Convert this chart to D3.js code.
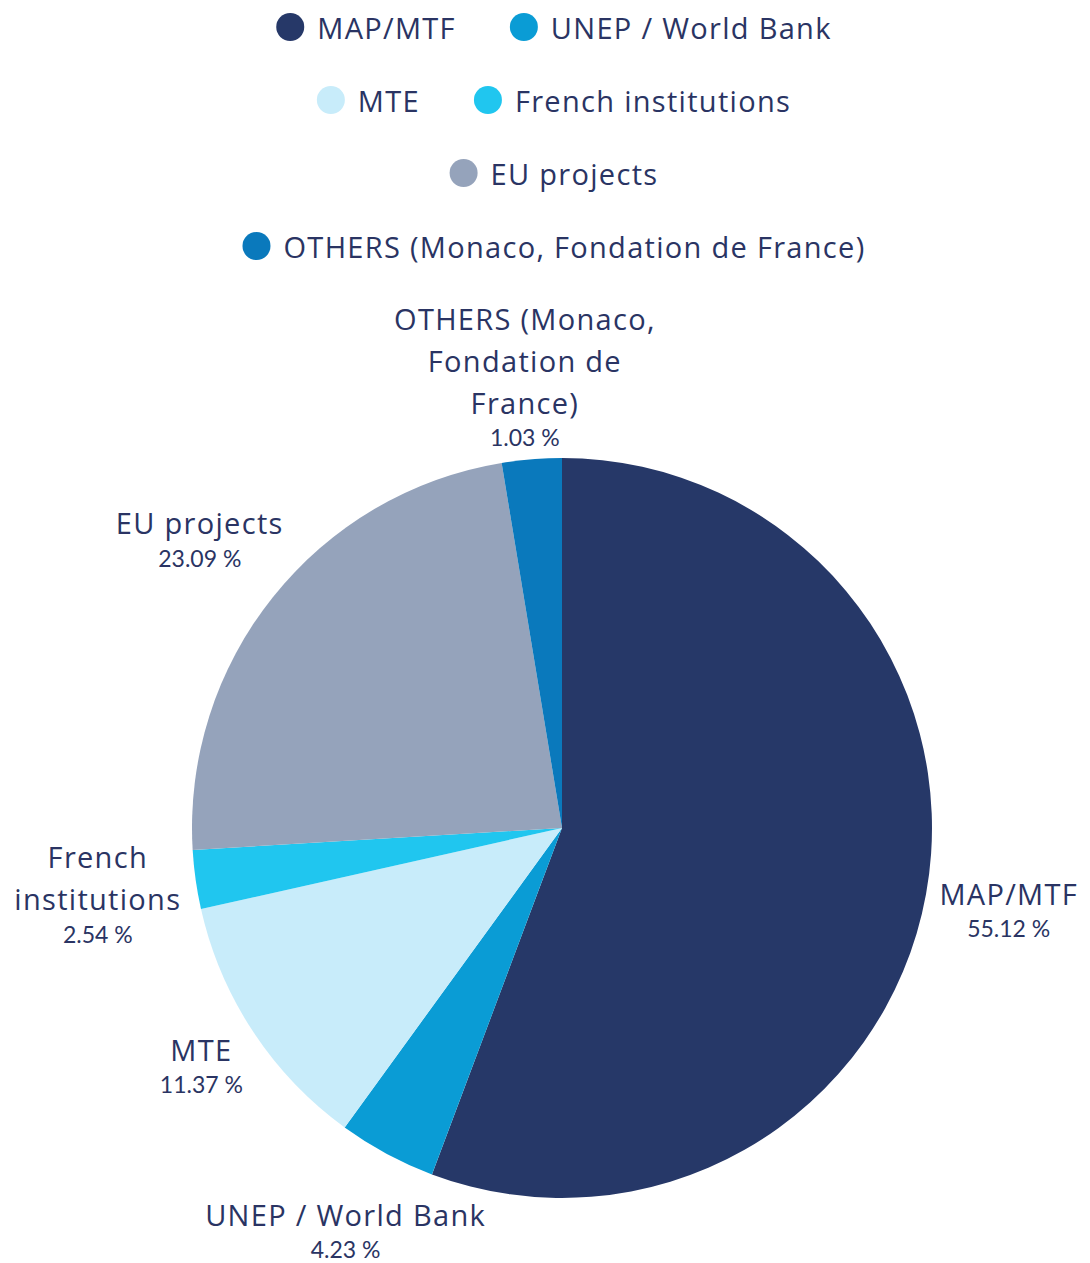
<!DOCTYPE html>
<html>
<head>
<meta charset="utf-8">
<script src="https://cdn.jsdelivr.net/npm/d3@7"></script>
<style>
  body { margin: 0; background: #fff; }
</style>
</head>
<body>
<div id="plot"></div>
<script>
// Data
const categories = ["MAP/MTF", "UNEP / World Bank", "MTE", "French institutions", "EU projects", "OTHERS (Monaco, Fondation de France)"];
const sliceShares = [55.12, 4.23, 11.37, 2.54, 23.09, 2.58]; // slice sizes as drawn
const shareLabels = ["55.12 %", "4.23 %", "11.37 %", "2.54 %", "23.09 %", "1.03 %"]; // labels as printed
const labelLines = [
  ["MAP/MTF"],
  ["UNEP / World Bank"],
  ["MTE"],
  ["French", "institutions"],
  ["EU projects"],
  ["OTHERS (Monaco,", "Fondation de", "France)"]
];
const colors = ["#263868", "#0a9cd5", "#c8ecfa", "#20c6ef", "#95a3bb", "#0a79bc"];
const legendRows = [[0, 1], [2, 3], [4], [5]];

const width = 1090;
const height = 1263;
const radius = 370;
const cx = 562, cy = 828;
const textColor = "#2a3463";
const nameFont = "'Open Sans', sans-serif";
const nameSize = "29px";
const nameSpacing = "1.3px";
const pctFont = "Lato, sans-serif";

const svg = d3.select("#plot")
  .append("svg")
  .attr("width", width)
  .attr("height", height);

svg.append("rect").attr("width", width).attr("height", height).attr("fill", "#fff");

// Legend
const legend = svg.append("g");
legendRows.forEach((row, r) => {
  const y = 27 + r * 73;
  const rowG = legend.append("g");
  let x = 0;
  row.forEach((idx, k) => {
    if (k > 0) x += 54;
    rowG.append("circle")
      .attr("cx", x + 14)
      .attr("cy", y)
      .attr("r", 14)
      .attr("fill", colors[idx]);
    const t = rowG.append("text")
      .attr("x", x + 41)
      .attr("y", y)
      .attr("dominant-baseline", "central")
      .style("font-family", nameFont)
      .style("font-size", nameSize)
      .style("letter-spacing", nameSpacing)
      .attr("fill", textColor)
      .text(categories[idx]);
    x += 41 + t.node().getComputedTextLength();
  });
  rowG.attr("transform", `translate(${554 - x / 2}, 0)`);
});

// Pie
const pie = d3.pie().value(d => d).sort(null);
const arc = d3.arc().innerRadius(0).outerRadius(radius);
const arcs = pie(sliceShares);

const g = svg.append("g")
  .attr("transform", `translate(${cx}, ${cy})`);

g.selectAll("path")
  .data(arcs)
  .enter()
  .append("path")
  .attr("d", arc)
  .attr("fill", (d, i) => colors[i]);

// Distance from pie centre to the nearest point of a w x h box centred d away
function boxDist(d, sx, sy, w, h) {
  const dx = Math.max(Math.abs(d * sx) - w / 2, 0);
  const dy = Math.max(Math.abs(d * sy) - h / 2, 0);
  return Math.hypot(dx, dy);
}

// Data labels: box pushed out along the slice's middle angle until it clears the pie
const labelGap = radius + 11;
const labelG = svg.append("g");
arcs.forEach((d, i) => {
  const lines = labelLines[i];
  const block = labelG.append("g");
  let maxW = 0;
  lines.forEach((line, j) => {
    const t = block.append("text")
      .attr("x", 0)
      .attr("y", 13 + j * 42)
      .attr("text-anchor", "middle")
      .attr("dominant-baseline", "central")
      .style("font-family", nameFont)
      .style("font-size", nameSize)
      .style("letter-spacing", nameSpacing)
      .attr("fill", textColor)
      .text(line);
    maxW = Math.max(maxW, t.node().getComputedTextLength());
  });
  const pctY = 13 + (lines.length - 1) * 42 + 35;
  const p = block.append("text")
    .attr("x", 0)
    .attr("y", pctY)
    .attr("text-anchor", "middle")
    .attr("dominant-baseline", "central")
    .style("font-family", pctFont)
    .style("font-size", "23px")
    .attr("fill", textColor)
    .text(shareLabels[i]);
  maxW = Math.max(maxW, p.node().getComputedTextLength());
  const h = pctY + 10;
  const a = (d.startAngle + d.endAngle) / 2;
  const sx = Math.sin(a), sy = -Math.cos(a);
  let lo = 0, hi = 1000;
  for (let k = 0; k < 40; k++) {
    const mid = (lo + hi) / 2;
    if (boxDist(mid, sx, sy, maxW, h) < labelGap) lo = mid; else hi = mid;
  }
  const bx = cx + sx * lo;
  const by = cy + sy * lo - h / 2;
  block.attr("transform", `translate(${bx}, ${by})`);
});
</script>
</body>
</html>
